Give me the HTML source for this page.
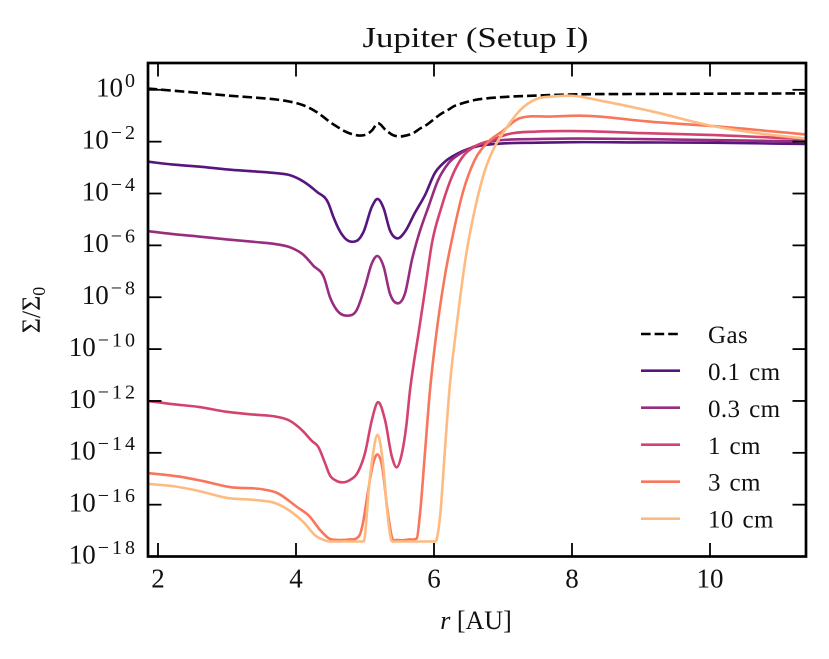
<!DOCTYPE html>
<html>
<head>
<meta charset="utf-8">
<title>Jupiter (Setup I)</title>
<style>
html,body{margin:0;padding:0;background:#fff;}
svg{display:block;}
text{font-family:"Liberation Serif","DejaVu Serif",serif;fill:#111;}
</style>
</head>
<body>
<svg id="chart" width="829" height="659" viewBox="0 0 829 659" xmlns="http://www.w3.org/2000/svg">
  <defs><clipPath id="plot-clip"><rect x="148" y="63" width="658" height="493.5"/></clipPath></defs>
  <rect x="0" y="0" width="829" height="659" fill="#fff"/>
  <text x="475.5" y="47" font-size="29" text-anchor="middle" textLength="226" lengthAdjust="spacingAndGlyphs">Jupiter (Setup I)</text>
  <g id="series" clip-path="url(#plot-clip)"></g>
  <g id="ticks"></g>
  <rect x="148" y="63" width="658" height="493.5" fill="none" stroke="#000" stroke-width="2.7"/>
  <text x="476" y="629" font-size="26" text-anchor="middle"><tspan font-style="italic">r</tspan> [AU]</text>
  <text transform="translate(40,310) rotate(-90)" font-size="26" text-anchor="middle">Σ/Σ<tspan font-size="18" dy="5">0</tspan></text>
  <g id="legend"></g>
</svg>
<script>
// ---- radial grids (AU) ----
const gasRadius = [1.85,2.2,2.6,3.0,3.4,3.7,3.9,4.1,4.3,4.4,4.5,4.6,4.7,4.8,4.9,5.0,5.1,5.18,5.3,5.4,5.5,5.6,5.7,5.8,5.9,6.0,6.1,6.2,6.3,6.4,6.5,6.6,6.8,7,7.5,8,9,10,11.38];
const mm1Radius = [1.85,2.20,2.59,3.00,3.41,3.70,3.91,4.11,4.30,4.47,4.54,4.64,4.72,4.83,4.90,4.98,5.10,5.18,5.27,5.36,5.47,5.58,5.72,5.87,6.01,6.16,6.35,6.64,6.88,7.49,8,9,10,11.38];
const mm3Radius = [1.85,2.20,2.59,3.00,3.41,3.70,3.91,4.11,4.25,4.41,4.49,4.59,4.74,4.88,5.00,5.10,5.18,5.27,5.36,5.46,5.58,5.68,5.77,5.92,6.06,6.21,6.40,6.64,6.88,7.10,7.49,8,9,10,11.38];
const cm1Radius = [1.85,2.20,2.59,3.00,3.41,3.70,3.90,4.10,4.23,4.32,4.42,4.49,4.58,4.67,4.78,4.90,5.00,5.10,5.18,5.29,5.39,5.46,5.53,5.60,5.65,5.71,5.77,5.87,5.97,6.11,6.26,6.40,6.59,6.84,7.06,7.49,8,9,10,11.38];
const cm3Radius = [1.85,2.32,2.65,3.04,3.52,3.72,4.01,4.20,4.35,4.49,4.59,4.78,4.88,4.93,4.97,5.04,5.12,5.18,5.25,5.32,5.39,5.46,5.65,5.75,5.80,5.87,5.94,6.03,6.16,6.28,6.42,6.59,6.79,6.98,7.25,7.72,8.12,9.17,10.04,11.38];
const cm10Radius = [1.85,2.20,2.59,3.00,3.41,3.70,3.90,4.10,4.30,4.40,4.50,4.98,5.00,5.02,5.05,5.11,5.18,5.26,5.32,5.38,5.41,6.00,6.04,6.09,6.16,6.23,6.31,6.38,6.47,6.59,6.74,6.88,7.03,7.25,7.49,7.72,8.00,8.45,9.17,10.04,10.62,11.38];
// ---- log10(Sigma/Sigma0) ----
const gasLog = [0.05,-0.03,-0.12,-0.22,-0.30,-0.37,-0.45,-0.59,-0.86,-1.05,-1.26,-1.43,-1.59,-1.70,-1.76,-1.74,-1.57,-1.30,-1.55,-1.74,-1.80,-1.76,-1.67,-1.49,-1.34,-1.13,-0.93,-0.78,-0.62,-0.53,-0.45,-0.39,-0.32,-0.28,-0.22,-0.18,-0.16,-0.15,-0.14];
const mm1Log = [-2.77,-2.88,-2.96,-3.07,-3.15,-3.21,-3.29,-3.54,-3.93,-4.38,-4.89,-5.47,-5.75,-5.86,-5.79,-5.47,-4.51,-4.21,-4.57,-5.41,-5.73,-5.47,-4.76,-4.06,-3.22,-2.77,-2.45,-2.17,-2.09,-2.04,-2.02,-2.03,-2.04,-2.09];
const mm3Log = [-5.45,-5.56,-5.66,-5.77,-5.87,-5.95,-6.07,-6.37,-6.78,-7.27,-7.98,-8.49,-8.71,-8.49,-7.59,-6.69,-6.41,-6.82,-7.85,-8.23,-7.85,-6.56,-5.67,-4.51,-3.48,-2.83,-2.43,-2.13,-1.97,-1.92,-1.90,-1.88,-1.90,-1.94,-1.99];
const cm1Log = [-12.00,-12.12,-12.23,-12.42,-12.53,-12.60,-12.75,-13.16,-13.54,-13.76,-14.39,-14.86,-15.07,-15.14,-15.05,-14.73,-14.01,-12.73,-12.06,-12.73,-14.15,-14.56,-14.08,-12.93,-11.64,-10.49,-9.49,-7.72,-5.92,-4.51,-3.35,-2.64,-2.19,-1.94,-1.72,-1.61,-1.59,-1.67,-1.74,-1.90];
const cm3Log = [-14.78,-14.92,-15.09,-15.32,-15.41,-15.54,-16.08,-16.46,-16.98,-17.32,-17.36,-17.34,-17.29,-17.13,-16.71,-15.55,-14.39,-14.06,-14.55,-16.09,-17.25,-17.36,-17.34,-17.30,-16.27,-13.96,-11.64,-9.49,-7.14,-5.52,-3.94,-2.71,-2.00,-1.62,-1.09,-1.03,-1.00,-1.24,-1.40,-1.72];
const cm10Log = [-15.20,-15.28,-15.47,-15.74,-15.82,-15.94,-16.22,-16.65,-17.23,-17.36,-17.42,-17.42,-17.18,-16.59,-15.55,-14.16,-13.31,-14.39,-16.21,-17.36,-17.42,-17.42,-17.32,-16.40,-13.82,-11.38,-9.49,-7.98,-6.29,-4.64,-3.09,-2.19,-1.55,-0.78,-0.35,-0.26,-0.23,-0.44,-0.84,-1.40,-1.65,-1.88];
// ---- tick values and legend labels ----
const xTickValues = [2,4,6,8,10];
const yTickExponents = [0,-2,-4,-6,-8,-10,-12,-14,-16,-18];
const legendLabels = ['Gas','0.1 cm','0.3 cm','1 cm','3 cm','10 cm'];

const seriesColors = ['#000000','#57157e','#982d80','#d3436e','#f8765c','#febb81'];

const NS = 'http://www.w3.org/2000/svg';
const xScale = r => 158 + 69 * (r - 2);
const yScale = e => 89.8 - 25.93 * e;

function mk(tag, attrs, parent) {
  const el = document.createElementNS(NS, tag);
  for (const k in attrs) el.setAttribute(k, attrs[k]);
  parent.appendChild(el);
  return el;
}

// Smooth cubic path through the data points; the limiter only bites at true corners
function smoothPath(rs, vals) {
  const xs = rs.map(xScale), ys = vals.map(yScale), n = xs.length;
  const d = [], m = new Array(n);
  for (let i = 0; i < n - 1; i++) d.push((ys[i + 1] - ys[i]) / (xs[i + 1] - xs[i]));
  m[0] = d[0]; m[n - 1] = d[n - 2];
  for (let i = 1; i < n - 1; i++) {
    const h0 = xs[i] - xs[i - 1], h1 = xs[i + 1] - xs[i];
    const par = (h1 * d[i - 1] + h0 * d[i]) / (h0 + h1);
    const lim = 6 * Math.min(Math.abs(d[i - 1]), Math.abs(d[i]));
    m[i] = Math.max(-lim, Math.min(lim, par));
  }
  let p = 'M' + xs[0].toFixed(2) + ' ' + ys[0].toFixed(2);
  for (let i = 0; i < n - 1; i++) {
    const h = (xs[i + 1] - xs[i]) / 3;
    p += 'C' + (xs[i] + h).toFixed(2) + ' ' + (ys[i] + m[i] * h).toFixed(2) + ' ' +
         (xs[i + 1] - h).toFixed(2) + ' ' + (ys[i + 1] - m[i + 1] * h).toFixed(2) + ' ' +
         xs[i + 1].toFixed(2) + ' ' + ys[i + 1].toFixed(2);
  }
  return p;
}

const seriesGroup = document.getElementById('series');
const tickGroup = document.getElementById('ticks');
const legendGroup = document.getElementById('legend');

const seriesRadii = [gasRadius, mm1Radius, mm3Radius, cm1Radius, cm3Radius, cm10Radius];
const seriesValues = [gasLog, mm1Log, mm3Log, cm1Log, cm3Log, cm10Log];
const seriesNames = ['gas-line','line-0-1-cm','line-0-3-cm','line-1-cm','line-3-cm','line-10-cm'];
const legendNames = ['legend-entry-gas','legend-entry-0-1-cm','legend-entry-0-3-cm','legend-entry-1-cm','legend-entry-3-cm','legend-entry-10-cm'];

seriesValues.forEach((vals, i) => {
  const path = mk('path', {
    d: smoothPath(seriesRadii[i], vals),
    fill: 'none',
    stroke: seriesColors[i],
    'stroke-width': 2.6,
    'stroke-linejoin': 'round'
  }, seriesGroup);
  if (i === 0) path.setAttribute('stroke-dasharray', '9.6 4');
  
  
});

xTickValues.forEach(v => {
  const x = xScale(v);
  const bottom = mk('line', {x1: x, x2: x, y1: 556.5, y2: 543, stroke: '#000', 'stroke-width': 1.8}, tickGroup);
  
  
  const top = mk('line', {x1: x, x2: x, y1: 63, y2: 76.5, stroke: '#000', 'stroke-width': 1.8}, tickGroup);
  
  
  const label = mk('text', {x: x, y: 587.3, 'font-size': 27, 'text-anchor': 'middle'}, tickGroup);
  label.textContent = String(v);
  
  
});

yTickExponents.forEach(e => {
  const y = yScale(e);
  const left = mk('line', {x1: 148, x2: 161.5, y1: y, y2: y, stroke: '#000', 'stroke-width': 1.8}, tickGroup);
  
  
  const right = mk('line', {x1: 806, x2: 792.5, y1: y, y2: y, stroke: '#000', 'stroke-width': 1.8}, tickGroup);
  
  
  const label = mk('text', {x: 138, y: y + 6.8, 'font-size': 27, 'text-anchor': 'end'}, tickGroup);
  
  
  mk('tspan', {}, label).textContent = '10';
  const sup = mk('tspan', {dx: 2, dy: -9.5, 'font-size': 20, 'letter-spacing': 3}, label);
  sup.textContent = String(e).replace('-', '\u2212');
});

legendLabels.forEach((text, i) => {
  const lineY = i === 0 ? 334 : 370.7 + 37 * (i - 1);
  const textY = i === 0 ? 343 : 380 + 36.9 * (i - 1);
  const entry = mk('g', {}, legendGroup);
  
  
  const swatch = mk('line', {x1: 641, x2: 680, y1: lineY, y2: lineY, stroke: seriesColors[i], 'stroke-width': 2.6}, entry);
  if (i === 0) swatch.setAttribute('stroke-dasharray', '9.6 4');
  
  
  const label = mk('text', {x: 708, y: textY, 'font-size': 25, 'word-spacing': 2, 'letter-spacing': 0.4}, entry);
  label.textContent = text;
  
  
});
</script>
</body>
</html>
